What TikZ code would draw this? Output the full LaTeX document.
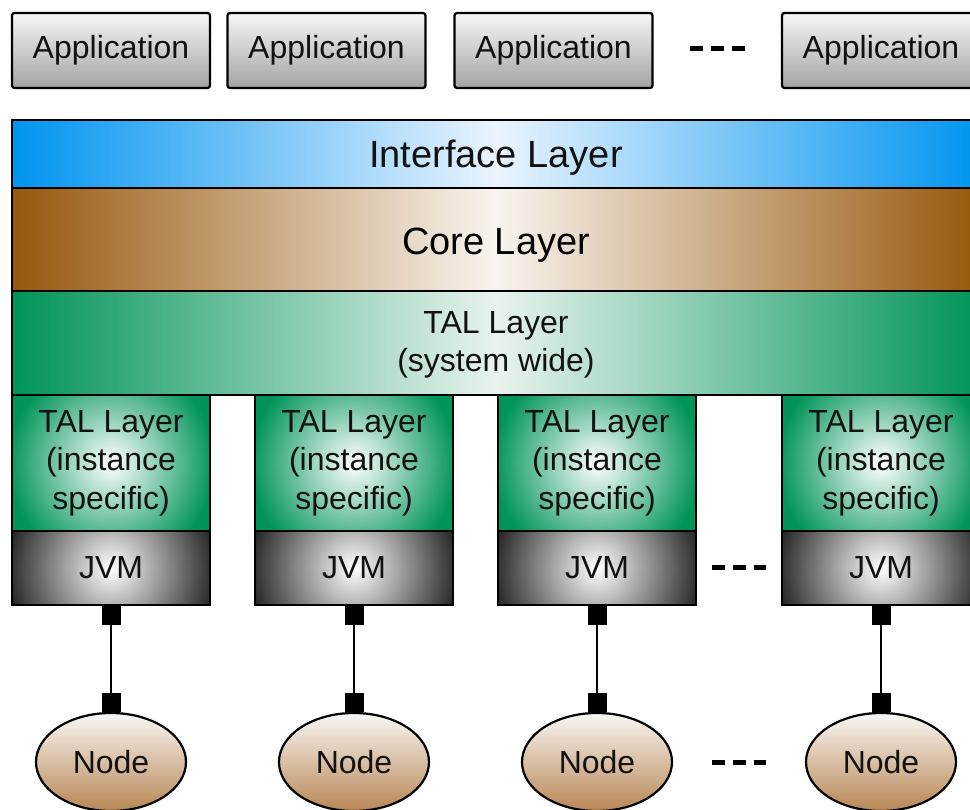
\documentclass[tikz,border=0pt]{standalone}
\usepackage{fontspec}
\setmainfont{Liberation Sans}
\usetikzlibrary{shapes.geometric,arrows.meta}

% palette
\definecolor{ifblue}{RGB}{0,148,240}
\definecolor{ifpale}{RGB}{234,244,254}
\definecolor{corebrown}{RGB}{150,88,12}
\definecolor{corepale}{RGB}{249,244,239}
\definecolor{talgreen}{RGB}{0,148,88}
\definecolor{talpale}{RGB}{233,243,237}
\definecolor{jvmdark}{RGB}{40,40,40}
\definecolor{apptop}{RGB}{246,246,246}
\definecolor{appbot}{RGB}{163,163,163}
\definecolor{nodetop}{RGB}{249,247,244}
\definecolor{nodebot}{RGB}{184,134,84}

\newcommand{\bigtext}{\fontsize{38pt}{45pt}\selectfont}
\newcommand{\midtext}{\fontsize{32pt}{38.5pt}\selectfont}

\begin{document}
\begin{tikzpicture}[x=1pt,y=-1pt,
  box/.style={draw=black, line width=2.2pt, inner sep=0pt, align=center,
    font=\midtext, text=black!93},
  appbox/.style={box, rounded corners=2.5pt, minimum width=198pt,
    minimum height=75pt, top color=apptop, bottom color=appbot},
  layer/.style={box, minimum width=968pt},
  talinst/.style={box, minimum width=198pt, minimum height=136pt,
    path picture={
      \fill[talgreen] (path picture bounding box.south west) rectangle
        (path picture bounding box.north east);
      \shade[inner color=white, outer color=talgreen]
        (path picture bounding box.center) circle (104pt);}},
  jvmbox/.style={box, minimum width=198pt, minimum height=74pt,
    path picture={
      \fill[jvmdark] (path picture bounding box.south west) rectangle
        (path picture bounding box.north east);
      \shade[inner color=white, outer color=jvmdark]
        (path picture bounding box.center) circle (104pt);}},
  hostnode/.style={box, ellipse, minimum width=150pt, minimum height=98pt,
    top color=nodetop, bottom color=nodebot},
  link/.style={line width=2pt,
    {Square[length=19pt,width=19pt]}-{Square[length=19pt,width=19pt]}},
  ellipsis/.style={line width=5pt, dash pattern=on 13pt off 8pt}
]
\useasboundingbox (0,0) rectangle (970,810);
\clip (0,0) rectangle (970,810);

% applications on top
\node[appbox] (app1) at (111,50.5) {Application};
\node[appbox] (app2) at (326.5,50.5) {Application};
\node[appbox] (app3) at (553.5,50.5) {Application};
\node[appbox] (app4) at (881,50.5) {Application};
\coordinate (appdotsA) at (690,49);
\coordinate (appdotsB) at (745,49);
\draw[ellipsis] (appdotsA) -- (appdotsB);

% shared layers
\node[layer, minimum height=68pt, left color=ifblue, right color=ifblue,
  middle color=ifpale, font=\bigtext, text depth=0pt] (iface) at (496,154)
  {Interface Layer};
\node[layer, minimum height=103pt, left color=corebrown, right color=corebrown,
  middle color=corepale, font=\bigtext, text depth=0pt,
  label={[font=\bigtext, text depth=0pt, inner sep=0pt, yshift=-2pt]center:Core Layer}]
  (core) at (496,239.5) {};
\node[layer, minimum height=104pt, left color=talgreen, right color=talgreen,
  middle color=talpale] (talsys) at (496,343) {};
\node[align=center, font=\midtext, text=black!93, inner sep=0pt]
  (talsystext) at ([yshift=-2pt]talsys.center) {TAL Layer\\(system wide)};

% per-instance stacks
\foreach \i/\x in {1/111, 2/354, 3/597, 4/881}{
  \node[talinst] (tal\i) at (\x,463) {TAL Layer\\(instance\\specific)};
  \node[jvmbox] (jvm\i) at (\x,568) {JVM};
  \node[hostnode] (host\i) at (\x,762) {Node};
  \draw[link] (jvm\i) -- (host\i);
}

\coordinate (jvmdotsA) at (712,567);
\coordinate (jvmdotsB) at (766,567);
\draw[ellipsis] (jvmdotsA) -- (jvmdotsB);
\coordinate (hostdotsA) at (712,762);
\coordinate (hostdotsB) at (766,762);
\draw[ellipsis] (hostdotsA) -- (hostdotsB);
\end{tikzpicture}
\end{document}
